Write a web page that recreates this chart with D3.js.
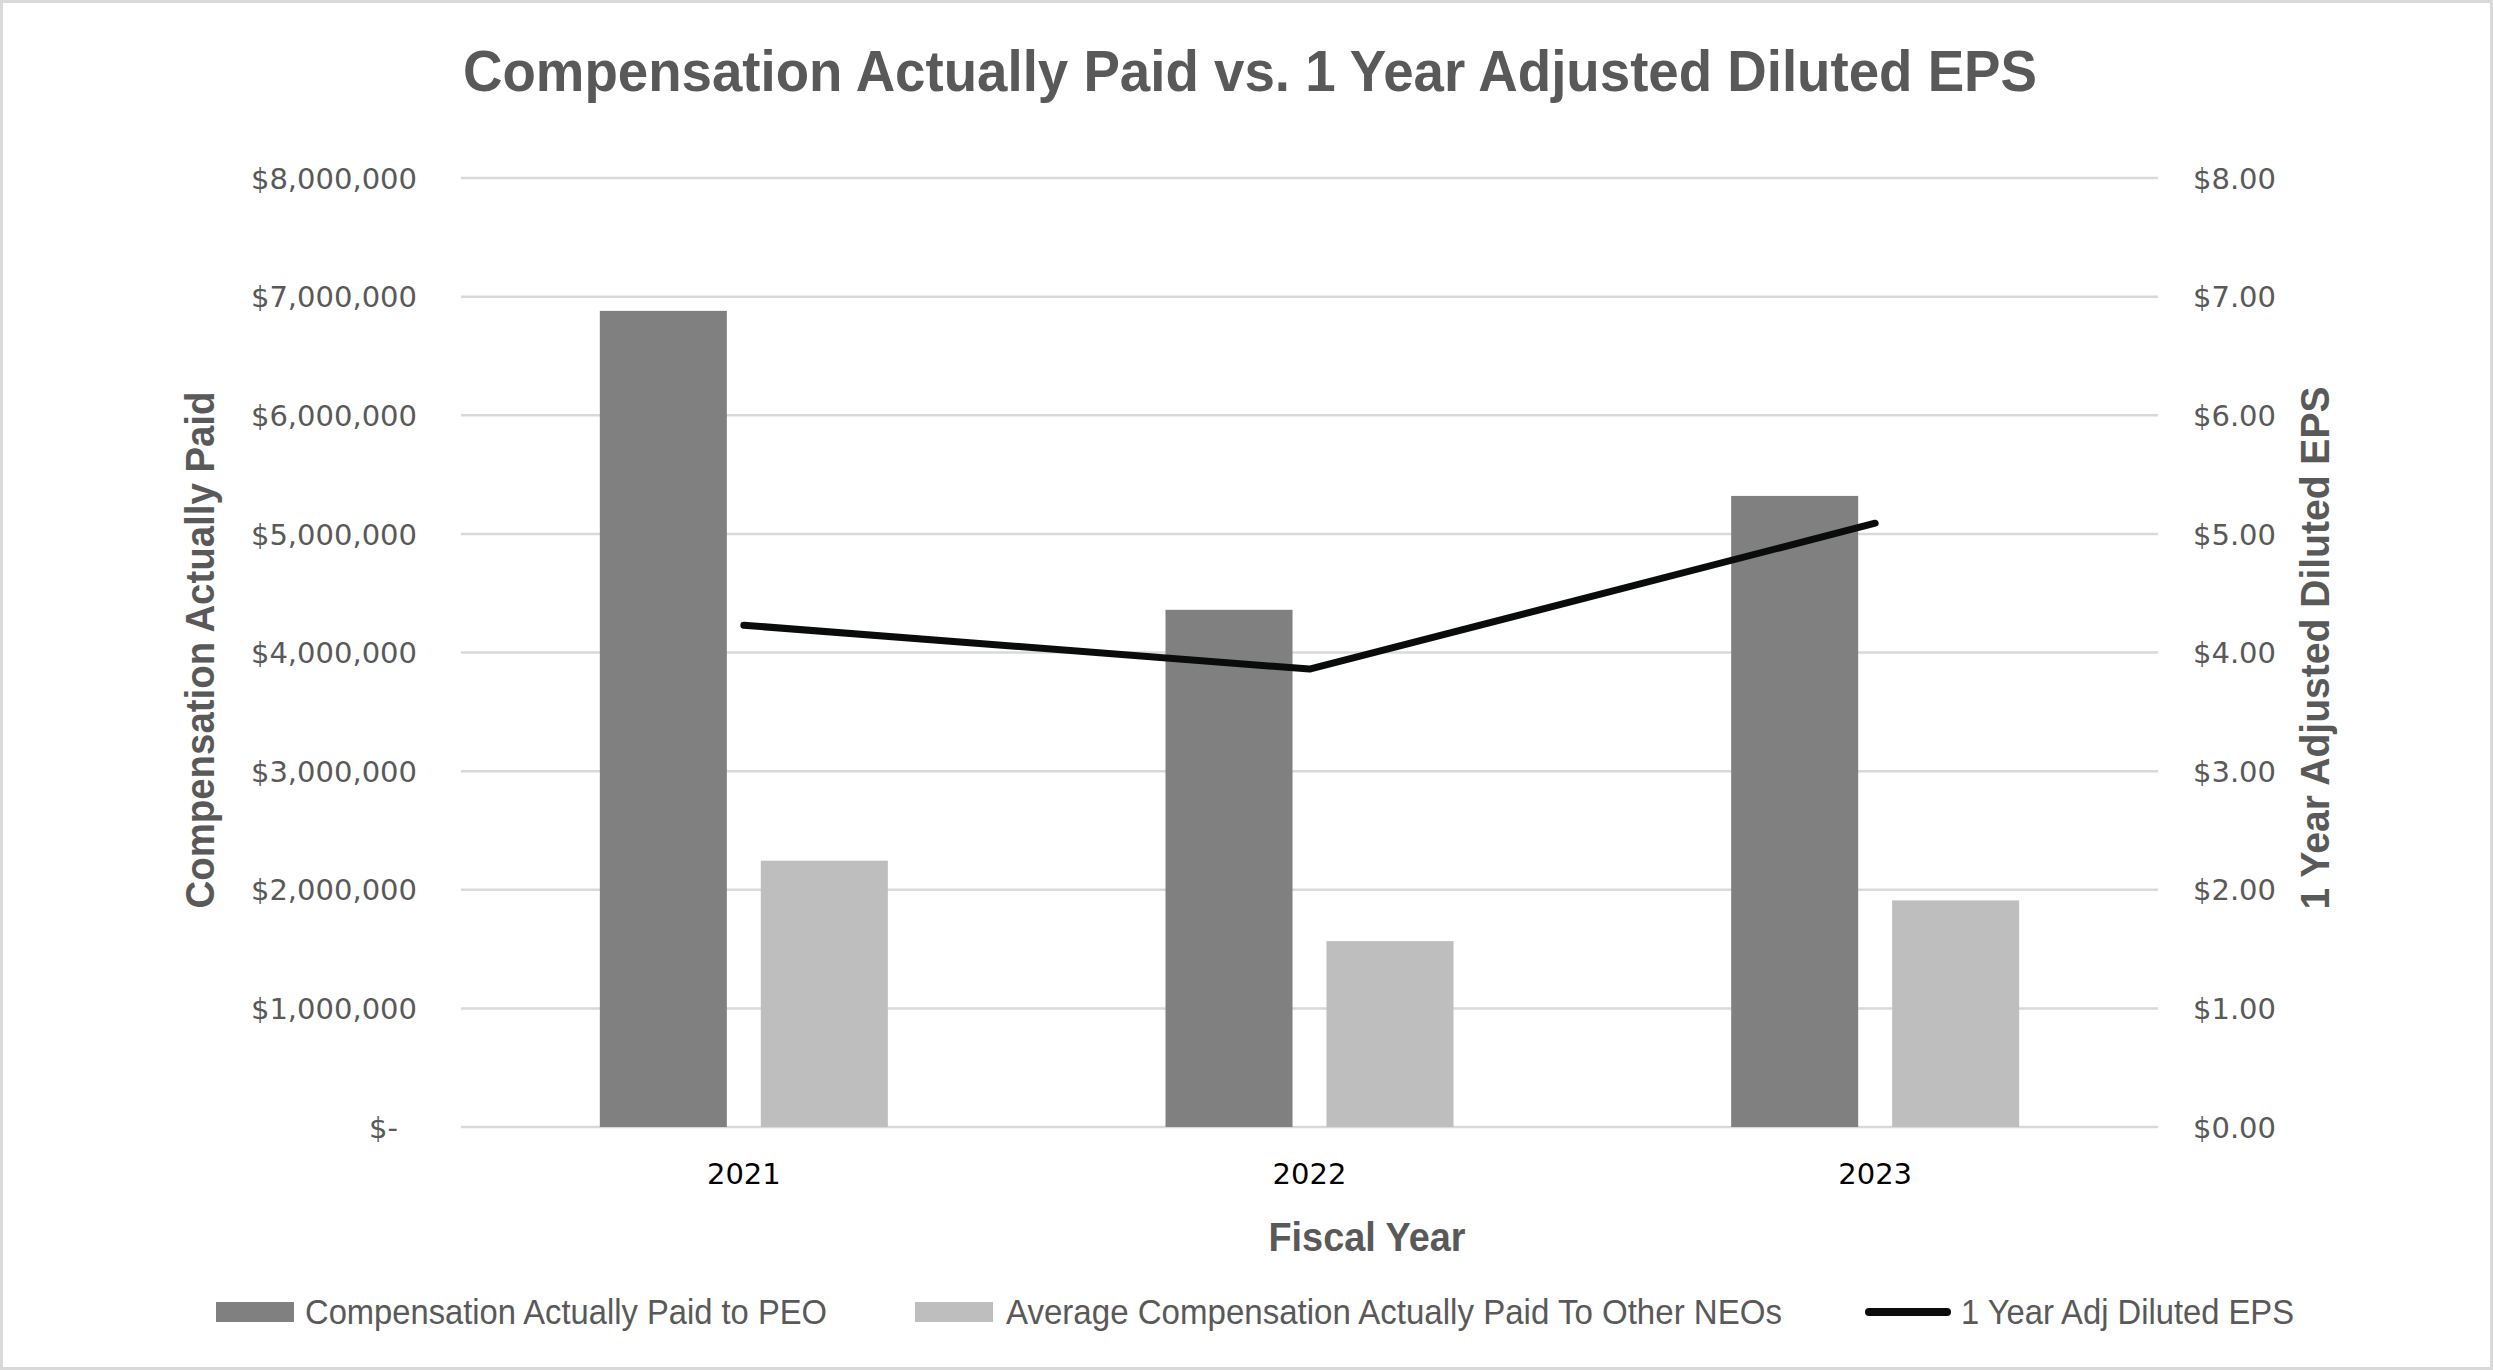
<!DOCTYPE html>
<html><head><meta charset="utf-8">
<script src="https://cdn.jsdelivr.net/npm/d3@7"></script>
<style>
html,body{margin:0;padding:0;background:#fff;}
svg{display:block;}
.narrow{font-family:"Liberation Sans Narrow","Arial Narrow","Liberation Sans",Arial,sans-serif;}
</style></head>
<body>
<svg id="chart" width="2493" height="1370"></svg>
<script>
const years = ["2021", "2022", "2023"];
const peoComp = [6880000, 4360000, 5320000];
const neoComp = [2245000, 1567000, 1910000];
const epsValues = [4.23, 3.86, 5.09];
const leftTicks = [0, 1000000, 2000000, 3000000, 4000000, 5000000, 6000000, 7000000, 8000000];
const rightTicks = [0, 1, 2, 3, 4, 5, 6, 7, 8];
const seriesNames = ["Compensation Actually Paid to PEO", "Average Compensation Actually Paid To Other NEOs", "1 Year Adj Diluted EPS"];

(function(){
const W = 2493, H = 1370;
const svg = d3.select("#chart");
const grey = "#595959";
const cPEO = "#7f807f", cNEO = "#bfbebf", cLine = "#0a0c0c", cGrid = "#d9d9d9";

svg.append("rect").attr("x",1.5).attr("y",1.5).attr("width",W-3).attr("height",H-3)
  .attr("fill","#fff").attr("stroke",cGrid).attr("stroke-width",3);

const pL = 461, pR = 2158, pT = 178, pB = 1127;
const x = d3.scaleBand().domain(years).range([pL, pR]).padding(0);
const groupW = 288;
const x1 = d3.scaleBand().domain(["peo","neo"]).range([0, groupW]).paddingInner(0.211).paddingOuter(0);
const y = d3.scaleLinear().domain([0, 8000000]).range([pB, pT]);
const y2 = d3.scaleLinear().domain([0, 8]).range([pB, pT]);

// gridlines
svg.append("g").selectAll("line").data(leftTicks).join("line")
  .attr("x1", pL).attr("x2", pR)
  .attr("y1", d => y(d)).attr("y2", d => y(d))
  .attr("stroke", cGrid).attr("stroke-width", 2.5);

// left axis
const fmtL = d => d === 0 ? "$-" : "$" + d3.format(",")(d);
const gL = svg.append("g").attr("transform", `translate(${pL},0)`)
  .call(d3.axisLeft(y).tickValues(leftTicks).tickFormat(fmtL).tickSize(0).tickPadding(44));
gL.select(".domain").remove();
gL.selectAll("text").attr("font-family","DejaVu Sans").attr("font-size",29).attr("fill",grey)
  .attr("dy","0.35em")
  .filter(d => d === 0).attr("dx", -19);

// right axis
const gR = svg.append("g").attr("transform", `translate(${pR},0)`)
  .call(d3.axisRight(y2).tickValues(rightTicks).tickFormat(d => "$" + d3.format(".2f")(d)).tickSize(0).tickPadding(35));
gR.select(".domain").remove();
gR.selectAll("text").attr("font-family","DejaVu Sans").attr("font-size",29).attr("fill",grey).attr("dy","0.35em");

// bars
const groups = svg.append("g").selectAll("g").data(years).join("g")
  .attr("transform", d => `translate(${x(d) + (x.bandwidth() - groupW)/2},0)`);
groups.append("rect")
  .attr("x", x1("peo")).attr("width", x1.bandwidth())
  .attr("y", (d,i) => y(peoComp[i])).attr("height", (d,i) => y(0) - y(peoComp[i]))
  .attr("fill", cPEO);
groups.append("rect")
  .attr("x", x1("neo")).attr("width", x1.bandwidth())
  .attr("y", (d,i) => y(neoComp[i])).attr("height", (d,i) => y(0) - y(neoComp[i]))
  .attr("fill", cNEO);

// line
const line = d3.line().x((d,i) => x(years[i]) + x.bandwidth()/2).y(d => y2(d));
svg.append("path").datum(epsValues).attr("d", line)
  .attr("fill","none").attr("stroke", cLine).attr("stroke-width", 7)
  .attr("stroke-linecap","round").attr("stroke-linejoin","round");

// x axis labels
const gX = svg.append("g").attr("transform", `translate(0,${pB})`)
  .call(d3.axisBottom(x).tickSize(0).tickPadding(36));
gX.select(".domain").remove();
gX.selectAll("text").attr("font-family","DejaVu Sans").attr("font-size",29).attr("fill","#000");

// titles (condensed to match the narrow face of the original)
svg.append("text").attr("class","narrow").attr("x",1250).attr("y",91)
  .attr("text-anchor","middle").attr("font-weight","bold").attr("font-size",58).attr("fill",grey)
  .attr("textLength",1574).attr("lengthAdjust","spacingAndGlyphs")
  .text("Compensation Actually Paid vs. 1 Year Adjusted Diluted EPS");
svg.append("text").attr("class","narrow")
  .attr("transform","translate(214,650) rotate(-90)")
  .attr("text-anchor","middle").attr("font-weight","bold").attr("font-size",41).attr("fill",grey)
  .attr("textLength",517).attr("lengthAdjust","spacingAndGlyphs")
  .text("Compensation Actually Paid");
svg.append("text").attr("class","narrow")
  .attr("transform","translate(2329,648) rotate(-90)")
  .attr("text-anchor","middle").attr("font-weight","bold").attr("font-size",41).attr("fill",grey)
  .attr("textLength",523).attr("lengthAdjust","spacingAndGlyphs")
  .text("1 Year Adjusted Diluted EPS");
svg.append("text").attr("class","narrow").attr("x",1367).attr("y",1251)
  .attr("text-anchor","middle").attr("font-weight","bold").attr("font-size",41).attr("fill",grey)
  .attr("textLength",197).attr("lengthAdjust","spacingAndGlyphs")
  .text("Fiscal Year");

// legend
const legY = 1312;
const legItems = [
  {name: seriesNames[0], type: "rect", color: cPEO, sx: 216, tx: 305, tw: 522},
  {name: seriesNames[1], type: "rect", color: cNEO, sx: 915, tx: 1006, tw: 776},
  {name: seriesNames[2], type: "line", color: cLine, sx: 1865, tx: 1961, tw: 333}
];
const lg = svg.append("g").selectAll("g").data(legItems).join("g");
lg.filter(d => d.type === "rect").append("rect")
  .attr("x", d => d.sx).attr("y", legY - 10).attr("width", 78).attr("height", 20).attr("fill", d => d.color);
lg.filter(d => d.type === "line").append("line")
  .attr("x1", d => d.sx + 4).attr("x2", d => d.sx + 82).attr("y1", legY).attr("y2", legY)
  .attr("stroke", d => d.color).attr("stroke-width", 8).attr("stroke-linecap","round");
lg.append("text").attr("class","narrow")
  .attr("x", d => d.tx).attr("y", legY).attr("dy","0.35em")
  .attr("textLength", d => d.tw).attr("lengthAdjust","spacingAndGlyphs")
  .attr("font-size",35).attr("fill",grey).text(d => d.name);
})();
</script>
</body></html>
